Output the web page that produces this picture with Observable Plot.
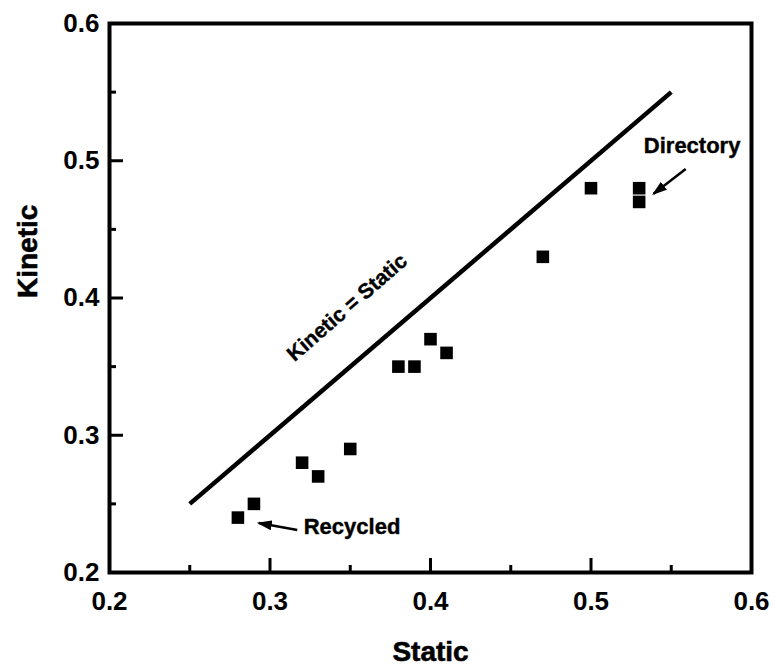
<!DOCTYPE html>
<html><head><meta charset="utf-8">
<script src="https://cdn.jsdelivr.net/npm/d3@7"></script>
<script src="https://cdn.jsdelivr.net/npm/@observablehq/plot@0.6"></script>
<style>body{margin:0;background:#fff}</style>
</head><body><div id="chart"></div>
<script>
const staticVals  = [0.28, 0.29, 0.32, 0.33, 0.35, 0.38, 0.39, 0.40, 0.41, 0.47, 0.50, 0.53, 0.53];
const kineticVals = [0.24, 0.25, 0.28, 0.27, 0.29, 0.35, 0.35, 0.37, 0.36, 0.43, 0.48, 0.48, 0.47];
const refLineX = [0.25, 0.55];
const refLineY = [0.25, 0.55];
const majorTicks = [0.2, 0.3, 0.4, 0.5, 0.6];
const minorTicks = [0.25, 0.35, 0.45, 0.55];
const xLabel = "Static";
const yLabel = "Kinetic";
const lineLabel = {t: "Kinetic = Static", x: 0.348, y: 0.393};
const directoryLabel = {t: "Directory", x: 0.563, y: 0.511};
const recycledLabel = {t: "Recycled", x: 0.321, y: 0.233};
const arrowFromX = [0.559, 0.317];
const arrowFromY = [0.494, 0.231];
const arrowToX = [0.539, 0.293];
const arrowToY = [0.476, 0.236];

const points = staticVals.map((s, i) => ({s, k: kineticVals[i]}));
const refLine = refLineX.map((x, i) => ({x, y: refLineY[i]}));
const arrows = arrowFromX.map((x1, i) => ({x1, y1: arrowFromY[i], x2: arrowToX[i], y2: arrowToY[i]}));

const heavy = {fill: "black", stroke: "black", paintOrder: "fill"};

const chart = Plot.plot({
  width: 774,
  height: 672,
  marginLeft: 109,
  marginRight: 23,
  marginTop: 23,
  marginBottom: 100,
  style: {fontFamily: "'Liberation Sans', Arial, sans-serif", fontWeight: "bold", color: "black", background: "white"},
  x: {domain: [0.2, 0.6]},
  y: {domain: [0.2, 0.6]},
  marks: [
    Plot.axisX(majorTicks, {tickSize: 14, dy: -14, tickFormat: () => "", strokeWidth: 3, label: null}),
    Plot.axisX(minorTicks, {tickSize: 7, dy: -7, tickFormat: () => "", strokeWidth: 3, label: null}),
    Plot.axisX(majorTicks, {tickSize: 0, tickPadding: 19, tickFormat: ".1f", fontSize: 26, label: null}),
    Plot.axisY(majorTicks, {tickSize: 14, dx: 14, tickFormat: () => "", strokeWidth: 3, label: null}),
    Plot.axisY(minorTicks, {tickSize: 7, dx: 7, tickFormat: () => "", strokeWidth: 3, label: null}),
    Plot.axisY(majorTicks, {tickSize: 0, tickPadding: 10, tickFormat: ".1f", fontSize: 26, label: null}),
    Plot.frame({strokeWidth: 4}),
    Plot.text([xLabel], {text: d => d, frameAnchor: "bottom", lineAnchor: "middle", dy: 80, fontSize: 28, ...heavy, strokeWidth: 0.6}),
    Plot.text([yLabel], {text: d => d, frameAnchor: "left", lineAnchor: "middle", rotate: -90, dx: -81, fontSize: 28, ...heavy, strokeWidth: 0.6}),
    Plot.line(refLine, {x: "x", y: "y", strokeWidth: 4.5, strokeLinecap: "butt"}),
    Plot.dot(points, {x: "s", y: "k", symbol: "square", r: 7.1, fill: "black", stroke: null}),
    Plot.link(arrows, {x1: "x1", y1: "y1", x2: "x2", y2: "y2", strokeWidth: 2.5}),
    Plot.text([lineLabel], {x: "x", y: "y", text: "t", fontSize: 21, rotate: -41, textAnchor: "middle", lineAnchor: "middle", ...heavy, strokeWidth: 0.4}),
    Plot.text([directoryLabel], {x: "x", y: "y", text: "t", fontSize: 22, textAnchor: "middle", lineAnchor: "middle", ...heavy, strokeWidth: 0.4}),
    Plot.text([recycledLabel], {x: "x", y: "y", text: "t", fontSize: 22, textAnchor: "start", lineAnchor: "middle", ...heavy, strokeWidth: 0.4})
  ]
});

const ns = "http://www.w3.org/2000/svg";
const defs = document.createElementNS(ns, "defs");
const marker = document.createElementNS(ns, "marker");
marker.setAttribute("id", "filledHead");
marker.setAttribute("viewBox", "0 0 15 10");
marker.setAttribute("refX", "13");
marker.setAttribute("refY", "5");
marker.setAttribute("markerWidth", "15");
marker.setAttribute("markerHeight", "10");
marker.setAttribute("markerUnits", "userSpaceOnUse");
marker.setAttribute("orient", "auto");
const mp = document.createElementNS(ns, "path");
mp.setAttribute("d", "M0,0L15,5L0,10Z");
mp.setAttribute("fill", "black");
marker.appendChild(mp);
defs.appendChild(marker);
chart.insertBefore(defs, chart.firstChild);
chart.querySelectorAll('g[aria-label="link"] path').forEach(p => p.setAttribute("marker-end", "url(#filledHead)"));

document.getElementById("chart").appendChild(chart);
</script>
</body></html>
